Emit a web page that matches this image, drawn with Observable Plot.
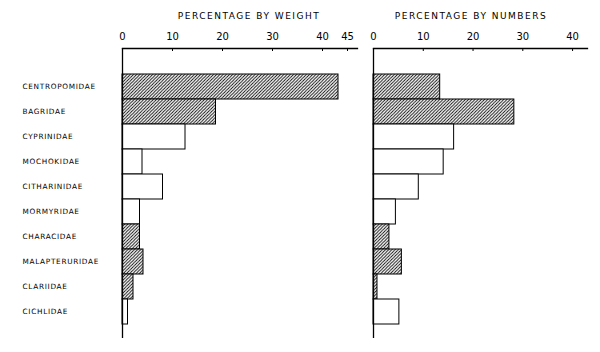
<!DOCTYPE html>
<html>
<head>
<meta charset="utf-8">
<script src="https://cdn.jsdelivr.net/npm/d3@7"></script>
<script src="https://cdn.jsdelivr.net/npm/@observablehq/plot@0.6"></script>
<style>
  html, body { margin: 0; padding: 0; background: #fff; }
  #wrap { position: relative; width: 600px; height: 352px; font-family: "DejaVu Sans", sans-serif; color: #000; }
  .panel { position: absolute; top: 0; }
  .title { position: absolute; font-size: 9px; letter-spacing: 1.5px; transform: translate(-50%, -50%); white-space: nowrap; }
  g[aria-label="y-axis tick label"] text { letter-spacing: 0.7px; }
</style>
</head>
<body>
<div id="wrap">
  <div class="panel" id="left" style="left:0;"></div>
  <div class="panel" id="right" style="left:360px;"></div>
  <div class="title" style="left:249px; top:16px;">PERCENTAGE BY WEIGHT</div>
  <div class="title" style="left:471px; top:16px;">PERCENTAGE BY NUMBERS</div>
</div>
<script>
const families = ["CENTROPOMIDAE", "BAGRIDAE", "CYPRINIDAE", "MOCHOKIDAE", "CITHARINIDAE",
  "MORMYRIDAE", "CHARACIDAE", "MALAPTERURIDAE", "CLARIIDAE", "CICHLIDAE"];
const byWeight = [43.2, 18.7, 12.6, 4.0, 8.1, 3.5, 3.5, 4.2, 2.2, 1.1];
const byNumbers = [13.4, 28.3, 16.2, 14.1, 9.1, 4.5, 3.2, 5.7, 0.8, 5.2];
const hatched = [true, true, false, false, false, false, true, true, true, false];
const weightTicks = [0, 10, 20, 30, 40, 45];
const numberTicks = [0, 10, 20, 30, 40];

const weightData = families.map((f, i) => ({family: f, value: byWeight[i], hatched: hatched[i]}));
const numberData = families.map((f, i) => ({family: f, value: byNumbers[i], hatched: hatched[i]}));

function addHatch(svg, id) {
  const ns = "http://www.w3.org/2000/svg";
  const defs = document.createElementNS(ns, "defs");
  defs.innerHTML = `<pattern id="${id}" patternUnits="userSpaceOnUse" width="3.2" height="3.2">
    <rect width="3.2" height="3.2" fill="white"/>
    <path d="M-0.8,0.8 L0.8,-0.8 M0,3.2 L3.2,0 M2.4,4 L4,2.4" stroke="black" stroke-width="0.9"/>
  </pattern>`;
  svg.insertBefore(defs, svg.firstChild);
}

function panel(data, ticks, opts) {
  const hid = opts.id + "-hatch";
  const frameH = 352 - 48 - 14;
  const svg = Plot.plot({
    width: opts.width,
    height: 352,
    marginTop: 48,
    marginBottom: 14,
    marginLeft: opts.marginLeft,
    marginRight: opts.marginRight,
    style: {fontFamily: "DejaVu Sans", fontSize: "10px", color: "black", background: "white"},
    x: {domain: opts.domain, axis: null},
    y: {domain: families, range: [72, 325], padding: 0, axis: null},
    marks: [
      Plot.barX(data, {
        y: "family", x: "value",
        fill: d => d.hatched ? `url(#${hid})` : "white",
        stroke: "black", strokeWidth: 1
      }),
      Plot.frame({anchor: "top", stroke: "black", strokeWidth: 1.3}),
      Plot.ruleX([0], {stroke: "black", strokeWidth: 1.3}),
      Plot.tickX(ticks, {x: d => d, stroke: "black", insetBottom: frameH - 3}),
      Plot.axisX({anchor: "top", ticks: ticks, tickSize: 0, tickPadding: 9, fontSize: 10, label: null, tickFormat: d => String(d)}),
      ...(opts.labels ? [Plot.axisY({anchor: "left", tickSize: 0, tickPadding: opts.marginLeft - 22, textAnchor: "start", fontSize: 7.3, label: null})] : [])
    ]
  });
  addHatch(svg, hid);
  return svg;
}

document.getElementById("left").appendChild(
  panel(weightData, weightTicks, {id: "w", width: 360, marginLeft: 122, marginRight: 3, domain: [0, 47], labels: true})
);
document.getElementById("right").appendChild(
  panel(numberData, numberTicks, {id: "n", width: 240, marginLeft: 13, marginRight: 13, domain: [0, 43], labels: false})
);
</script>
</body>
</html>
